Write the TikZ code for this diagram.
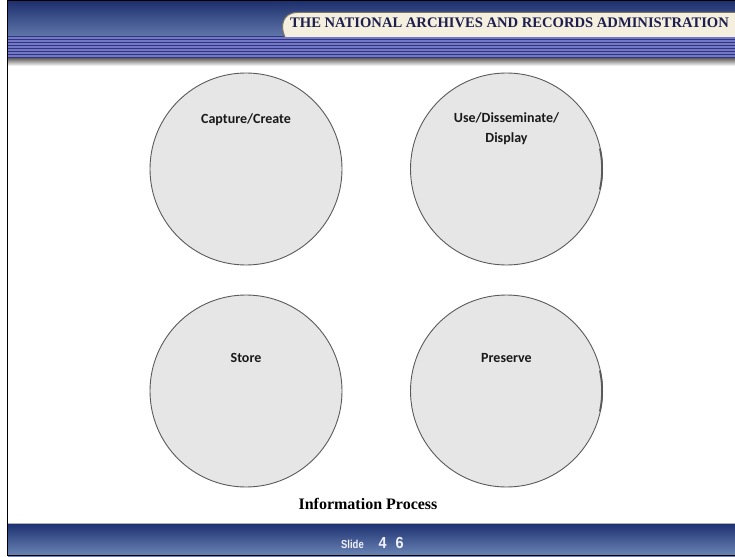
\documentclass[tikz,border=0pt]{standalone}
\usepackage{fontspec}
\setmainfont{Liberation Serif}
\newfontfamily\calib{Carlito}
\newfontfamily\footfont{Liberation Sans}
\definecolor{cfill}{HTML}{E6E6E6}
\definecolor{cline}{HTML}{5A5A5A}
\definecolor{navytop}{HTML}{1C2E6C}
\definecolor{navybot}{HTML}{5F76AA}
\definecolor{stripelight}{HTML}{7378C6}
\definecolor{stripedark}{HTML}{30357E}
\definecolor{cream}{HTML}{F4EFDF}
\definecolor{tabedge}{HTML}{7E7462}
\definecolor{titletext}{HTML}{1E1F4C}
\definecolor{foottop}{HTML}{1E3272}
\definecolor{footbot}{HTML}{6C86B6}
\tikzset{
  stage/.style={circle, minimum size=192pt, inner sep=0pt, fill=cfill, draw=cline, line width=0.9pt},
  stagetext/.style={font=\calib\bfseries\fontsize{14}{20}\selectfont, align=center, text=black!90, inner sep=0pt},
  edgeshade/.style={draw=black!65, line width=1.8pt, line cap=round},
}
\begin{document}
\begin{tikzpicture}[x=1pt,y=-1pt]
\useasboundingbox (0,0) rectangle (735,556);
\begin{scope}
\clip (0,0) rectangle (735,556);
% header gradient
\shade[top color=navytop, bottom color=navybot] (8,0) rectangle (735,36);
% stripes
\fill[stripelight] (8,36) rectangle (735,59);
\foreach \yy in {36.5,39.5,...,58.5} \draw[stripedark, line width=1pt] (8,\yy) -- (735,\yy);
% shadow under stripes
\shade[top color=black!55, bottom color=white] (8,59) rectangle (735,66);
% title tab
\draw[fill=cream, draw=tabedge, line width=1pt] (285,37) .. controls (280,27) and (282,13) .. (297,12.5) -- (740,12.5) -- (740,37);
\node[anchor=base west, inner sep=0pt, text=titletext, font=\bfseries\fontsize{14.6}{18}\selectfont] (title) at (290,28) {THE NATIONAL ARCHIVES AND RECORDS ADMINISTRATION};
% footer
\shade[top color=foottop, bottom color=footbot] (8,524) rectangle (735,556);
\draw[black!30, line width=0.8pt] (8,523.6) -- (735,523.6);
\node[anchor=base west, inner sep=0pt, text=white!95!blue, font=\footfont\bfseries] (slide) at (341,548) {\scalebox{0.82}[1]{\fontsize{11.5}{13}\selectfont Slide}\hspace{15pt}\scalebox{0.9}[1]{\fontsize{16}{18}\selectfont 4\hspace{10pt}6}};
% frame
\draw[black, line width=1.2pt] (7.6,0) -- (7.6,556);
\draw[black, line width=1pt] (7.6,0.5) -- (735,0.5);
\draw[black, line width=1pt] (7.6,555.5) -- (735,555.5);
\end{scope}
% circles
\node[stage] (c1) at (246,169) {};
\node[stage] (c2) at (506.5,169) {};
\node[stage] (c3) at (246,391) {};
\node[stage] (c4) at (506.5,391) {};
\draw[edgeshade] (c2.center) ++(12:95.6) arc[start angle=12, end angle=-12, radius=95.6];
\draw[edgeshade] (c4.center) ++(12:95.6) arc[start angle=12, end angle=-12, radius=95.6];
\node[stagetext] (t1) at (246,120) {Capture/Create};
\node[stagetext] (t2) at (506.5,129) {Use/Disseminate/\\Display};
\node[stagetext] (t3) at (246,358) {Store};
\node[stagetext] (t4) at (506.5,358) {Preserve};
\node[inner sep=0pt, font=\bfseries\fontsize{16}{19}\selectfont] (cap) at (368,504) {Information Process};
\end{tikzpicture}
\end{document}
